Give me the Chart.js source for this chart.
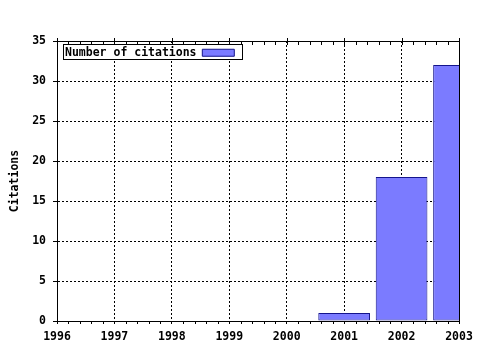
<!DOCTYPE html>
<html>
<head>
<meta charset="utf-8">
<script src="https://cdn.jsdelivr.net/npm/chart.js@4.4.1/dist/chart.umd.min.js"></script>
<style>
  html, body { margin: 0; padding: 0; background: #fff; }
  #wrap { width: 480px; height: 350px; }
</style>
</head>
<body>
<div id="wrap"><canvas id="citationsChart"></canvas></div>
<script>
// Data
const years = [2001, 2002, 2003];
const citations = [1, 18, 32];
const xRange = [1996, 2003];
const yRange = [0, 35];
const yStep = 5;
const minorPerYear = 5;

const monoFont = { family: "'DejaVu Sans Mono', monospace", size: 11.5, weight: 'bold' };

// plot frame, minor ticks and the boxed legend
const framePlugin = {
    id: 'frame',
    afterLayout(chart) {
        // chartArea legends get top reset to 0, move it back inside the plot
        const lg = chart.legend;
        const dy = chart.chartArea.top - lg.top + 2;
        lg.top += dy; lg.bottom += dy;
        lg.left -= 2; lg.right -= 2;
    },
    afterDraw(chart) {
        const { ctx, chartArea: a, scales: { x } } = chart;
        const px = v => Math.round(v) + 0.5;
        ctx.save();
        ctx.strokeStyle = '#000';
        ctx.lineWidth = 1;
        ctx.beginPath();
        ctx.rect(px(a.left), px(a.top), Math.round(a.right) - Math.round(a.left), Math.round(a.bottom) - Math.round(a.top));
        // major ticks on top edge
        x.ticks.forEach(t => {
            const xp = px(x.getPixelForValue(t.value));
            ctx.moveTo(xp, Math.round(a.top) - 3);
            ctx.lineTo(xp, Math.round(a.top) + 4);
        });
        // minor ticks
        const n = (xRange[1] - xRange[0]) * minorPerYear;
        for (let i = 1; i < n; i++) {
            if (i % minorPerYear === 0) continue;
            const xp = px(x.getPixelForValue(xRange[0] + i / minorPerYear));
            ctx.moveTo(xp, Math.round(a.bottom));
            ctx.lineTo(xp, Math.round(a.bottom) + 3);
            ctx.moveTo(xp, Math.round(a.top));
            ctx.lineTo(xp, Math.round(a.top) + 4);
        }
        ctx.stroke();

        // legend box
        const hb = chart.legend.legendHitBoxes[0];
        if (hb) {
            const l = Math.round(hb.left) - 2, t = Math.round(hb.top) - 3;
            const w = Math.round(hb.width) + 10, h = Math.round(hb.height) + 3;
            ctx.fillStyle = '#fff';
            ctx.fillRect(l, t, w, h);
            ctx.strokeRect(l + 0.5, t + 0.5, w, h);
            ctx.restore();
            chart.legend.draw();
            return;
        }
        ctx.restore();
    }
};

new Chart(document.getElementById('citationsChart').getContext('2d'), {
    type: 'bar',
    data: {
        datasets: [{
            label: 'Number of citations',
            data: years.map((yr, i) => ({ x: yr, y: citations[i] })),
            backgroundColor: '#7b7bff',
            borderColor: '#14148c',
            borderWidth: 1,
            borderSkipped: false,
            barPercentage: 0.9,
            categoryPercentage: 1.0,
            clip: 0
        }]
    },
    options: {
        responsive: true,
        maintainAspectRatio: false,
        animation: false,
        layout: { padding: { top: 41, right: 21, left: 0, bottom: 0 } },
        plugins: {
            tooltip: { enabled: false },
            legend: {
                position: 'chartArea',
                align: 'start',
                rtl: true,
                labels: {
                    font: monoFont,
                    color: '#000',
                    boxWidth: 32,
                    boxHeight: 7,
                    padding: 4
                }
            }
        },
        scales: {
            x: {
                type: 'linear',
                min: xRange[0],
                max: xRange[1],
                offset: false,
                afterFit: s => { s.height = 29; },
                grid: {
                    offset: false,
                    color: '#000',
                    tickLength: 3,
                    tickColor: '#000',
                    tickBorderDash: []
                },
                border: { display: true, color: '#000', dash: [2, 2] },
                ticks: {
                    stepSize: 1,
                    color: '#000',
                    font: monoFont,
                    padding: 6,
                    maxRotation: 0,
                    callback: v => String(v)
                }
            },
            y: {
                min: yRange[0],
                max: yRange[1],
                afterFit: s => { s.width = 57; },
                grid: {
                    color: '#000',
                    tickLength: 4,
                    tickColor: '#000',
                    tickBorderDash: []
                },
                border: { display: true, color: '#000', dash: [2, 2] },
                title: {
                    display: true,
                    text: 'Citations',
                    color: '#000',
                    font: monoFont,
                    padding: { top: 8, bottom: 0 }
                },
                ticks: {
                    stepSize: yStep,
                    color: '#000',
                    font: monoFont,
                    padding: 7,
                    callback: v => String(v)
                }
            }
        }
    },
    plugins: [framePlugin]
});
</script>
</body>
</html>
